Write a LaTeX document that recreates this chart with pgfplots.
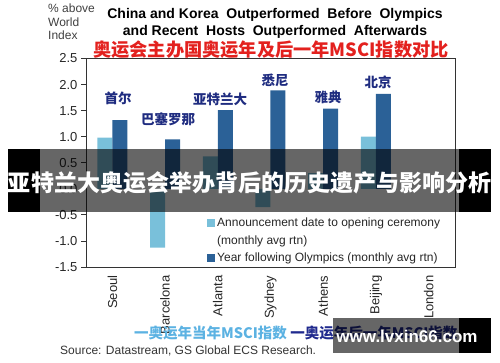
\documentclass[border=0pt]{standalone}
\usepackage{pgfplots}
\pgfplotsset{compat=1.18}
\usepackage{fontspec}
\setmainfont{Liberation Sans}
\newfontfamily\cjk{Noto Sans CJK SC}
\definecolor{lightbar}{HTML}{79C0DA}
\definecolor{darkbar}{HTML}{2B6197}
\definecolor{cityblue}{HTML}{1F2C80}
\definecolor{titlered}{HTML}{E3211E}
\definecolor{linelight}{HTML}{5CB2E2}
\definecolor{linedark}{HTML}{202A8E}
\begin{document}
\begin{tikzpicture}
\useasboundingbox (0pt,0pt) rectangle (500pt,362pt);
\begin{axis}[
  at={(86pt,95pt)}, anchor=south west,
  width=369pt, height=208.5pt, scale only axis,
  xmin=-0.5, xmax=6.5, ymin=-1.5, ymax=2.5,
  ybar, bar width=15pt,
  xtick={0,1,2,3,4,5,6},
  xticklabels={Seoul,Barcelona,Atlanta,Sydney,Athens,Beijing,London},
  x tick label style={rotate=90, anchor=east, font=\fontsize{13}{13}\selectfont, text=black!85},
  xtick style={draw=none},
  ytick={-1.5,-1,-0.5,0,0.5,1,1.5,2,2.5},
  ytick pos=left, tick align=outside, major tick length=5pt,
  /pgf/number format/fixed, /pgf/number format/fixed zerofill,
  /pgf/number format/precision=1, /pgf/number format/assume math mode=true,
  y tick label style={font=\fontsize{13}{13}\selectfont, text=black!85},
  axis line style={black!80, line width=0.8pt},
  ytick style={black!80, line width=0.8pt},
  legend style={at={(0.328,0.245)}, anchor=north west, draw=none, fill=none,
    font=\fontsize{12}{12}\selectfont, row sep=3pt, inner sep=0pt, text=black!85},
  legend cell align=left,
]
\addplot[fill=lightbar, draw=none, bar shift=-7.5pt,
  legend image code/.code={\fill[lightbar] (0pt,-4pt) rectangle (8pt,4pt);}]
  coordinates {(0,0.98) (1,-1.13) (2,0.62) (3,-0.35) (4,0.30) (5,1.00)};
\addlegendentry{Announcement date to opening ceremony}
\addlegendimage{empty legend}
\addlegendentry{(monthly avg rtn)}
\addplot[fill=darkbar, draw=none, bar shift=7.5pt,
  legend image code/.code={\fill[darkbar] (0pt,-4pt) rectangle (8pt,4pt);}]
  coordinates {(0,1.32) (1,0.95) (2,1.51) (3,1.89) (4,1.54) (5,1.82)};
\addlegendentry{Year following Olympics (monthly avg rtn)}
\end{axis}
% y label
\node[anchor=north west, align=left, font=\fontsize{12}{13.5}\selectfont, text=black!75, inner sep=0pt] at (48pt,358pt) {\% above\\World\\Index};
% title
\node[font=\bfseries\fontsize{14}{17}\selectfont, align=center, inner sep=0pt] at (275pt,338.5pt)
  {China and Korea\ \ Outperformed\ \ Before\ \ Olympics\\and Recent\ \ Hosts\ \ Outperformed\ \ Afterwards};
\node[font=\cjk\bfseries\fontsize{18.2}{18.2}\selectfont, text=titlered, inner sep=0pt] at (271pt,312pt)
  {奥运会主办国奥运年及后一年MSCI指数对比};
% city labels
\begin{scope}[every node/.style={font=\cjk\bfseries\fontsize{13.5}{13.5}\selectfont, text=cityblue, inner sep=0pt}]
\node at (118pt,264pt) {首尔};
\node at (168pt,243pt) {巴塞罗那};
\node at (220pt,263pt) {亚特兰大};
\node at (275pt,282pt) {悉尼};
\node at (328pt,265pt) {雅典};
\node at (378pt,280pt) {北京};
\end{scope}
% bottom legend line
\node[anchor=west, font=\cjk\bfseries\fontsize{14.5}{14.5}\selectfont, inner sep=0pt] at (134pt,29pt)
  {\textcolor{linelight}{一奥运年当年MSCI指数}\ \textcolor{linedark}{一奥运年后一年MSCI指数}};
\node[anchor=west, font=\fontsize{12}{12}\selectfont, text=black!80, inner sep=0pt] at (60pt,11pt)
  {Source: Datastream, GS Global ECS Research.};
% banner overlay
\fill[black, opacity=0.6] (40pt,150pt) rectangle (459pt,213pt);
\fill[black] (8pt,150pt) rectangle (40pt,213pt);
\fill[black] (459pt,150pt) rectangle (491pt,213pt);
\node[text=white, font=\cjk\bfseries\fontsize{23}{23}\selectfont, inner sep=0pt] at (249.5pt,179pt)
  {亚特兰大奥运会举办背后的历史遗产与影响分析};
% watermark
\fill[black, opacity=0.6] (333pt,9pt) rectangle (459pt,44pt);
\fill[black] (459pt,9pt) rectangle (491pt,44pt);
\node[text=white, font=\bfseries\fontsize{17}{17}\selectfont, inner sep=0pt] at (407pt,26pt) {www.lvxin66.com};
\end{tikzpicture}
\end{document}
